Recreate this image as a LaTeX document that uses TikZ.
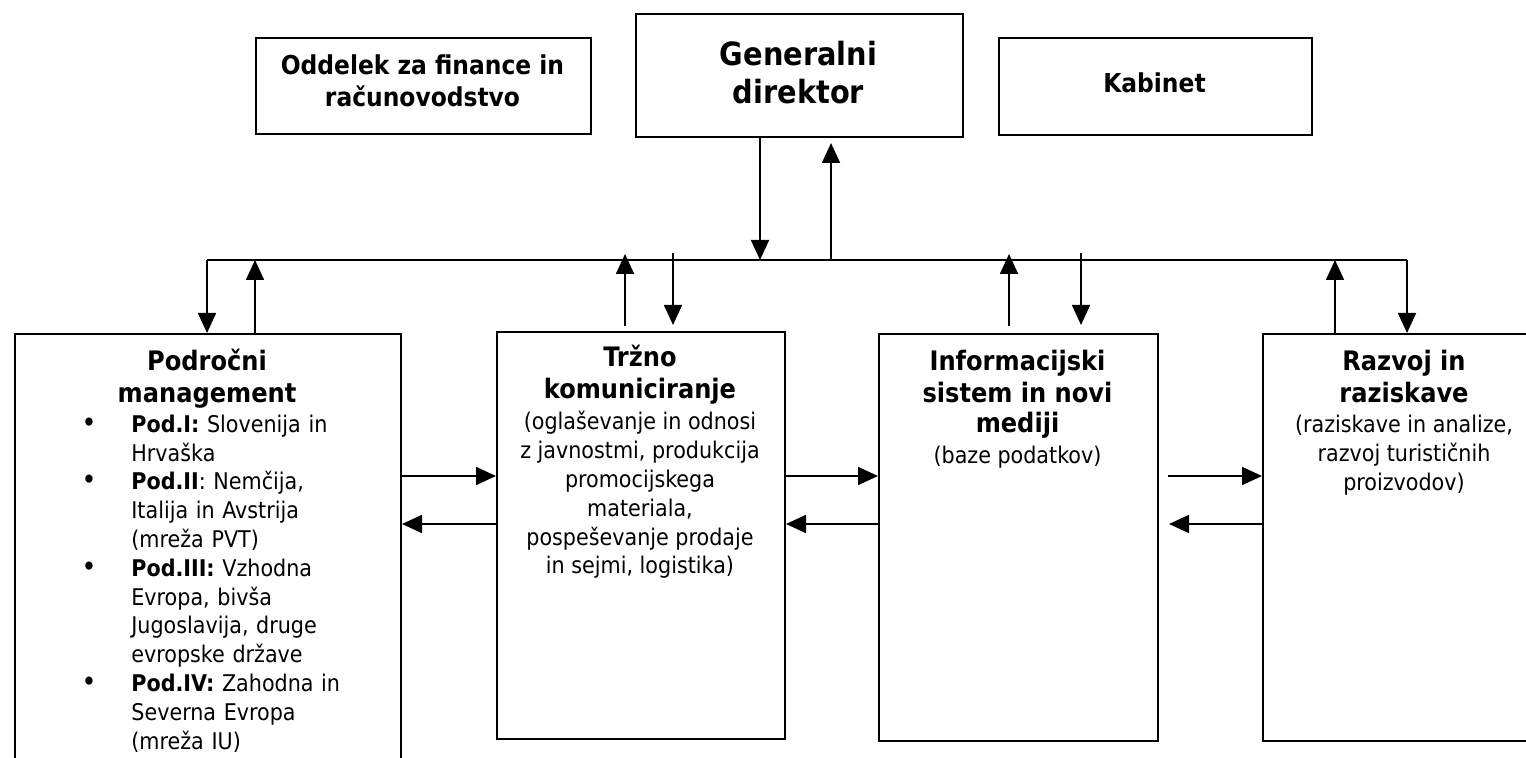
\documentclass[tikz,border=0pt]{standalone}
\usepackage{fontspec}
\setmainfont{DejaVu Sans Condensed}
\usetikzlibrary{arrows.meta}

% text sizes used in the chart
\newcommand\orgbody{\fontsize{11.5pt}{14.4pt}\selectfont}
\newcommand\orghead{\fontsize{13.4pt}{15pt}\selectfont\bfseries}
\newcommand\orgitem{\leavevmode\llap{{\fontsize{14pt}{14pt}\selectfont\textbullet}\hspace{17.5pt}}}
% fixes the height of a first line, so the node top sits a known distance above its baseline
\newcommand\firstline[1]{\rule{0pt}{#1}}

\tikzset{
  box/.style={draw, line width=1pt, inner sep=0pt, anchor=north west},
  txt/.style={inner sep=0pt, anchor=north, align=center},
  arr/.style={-{Triangle[length=10pt,width=9pt]}, line width=0.85pt},
  wire/.style={line width=0.85pt}
}

\begin{document}
\begin{tikzpicture}[x=0.5pt,y=-0.5pt]
\useasboundingbox (0,0) rectangle (1526,758);
\clip (0,0) rectangle (1526,758);

% top row
\node[box, minimum width=167.5pt, minimum height=48pt] (od) at (255,37) {};
\node[box, minimum width=163.5pt, minimum height=61.5pt] (gen) at (635,13) {};
\node[box, minimum width=156.5pt, minimum height=48.5pt] (kab) at (998,37) {};

% first baselines: 74, 65, 92 (24px / 28px above them)
\node[txt, font=\fontsize{13pt}{16pt}\selectfont\bfseries] (odT) at (422.5,50) {\firstline{12pt}Oddelek za finance in\\računovodstvo};
\node[txt, font=\fontsize{16pt}{19pt}\selectfont\bfseries] (genT) at (798.5,37) {\firstline{14pt}Generalni\\direktor};
\node[txt, font=\fontsize{13pt}{16pt}\selectfont\bfseries] (kabT) at (1154.5,68) {\firstline{12pt}Kabinet};

% departments
\node[box, minimum width=193pt, minimum height=228.5pt] (pm) at (14,333) {};
\node[box, minimum width=144pt, minimum height=203.5pt] (tk) at (496,331) {};
\node[box, minimum width=139.5pt, minimum height=203.5pt] (is) at (878,333) {};
\node[box, minimum width=145pt, minimum height=203.5pt] (rr) at (1262,333) {};

\node[txt, font=\orghead] (pmT) at (207,346) {\firstline{12pt}Področni\\[1pt]management};
\node[inner sep=0pt, anchor=north west, align=left, text width=135pt, font=\orgbody] (pmL) at (131,410)
 {\orgitem\firstline{11pt}\textbf{Pod.I:} Slovenija in\\
  Hrvaška\\
  \orgitem\textbf{Pod.II}: Nemčija,\\
  Italija in Avstrija\\
  (mreža PVT)\\
  \orgitem\textbf{Pod.III:} Vzhodna\\
  Evropa, bivša\\
  Jugoslavija, druge\\
  evropske države\\
  \orgitem\textbf{Pod.IV:} Zahodna in\\
  Severna Evropa\\
  (mreža IU)};

\node[txt, font=\orgbody] (tkT) at (640,342)
 {{\orghead\firstline{12pt}Tržno}\\[1.5pt]
  {\orghead komuniciranje}\\[1.5pt]
  (oglaševanje in odnosi\\
  z javnostmi, produkcija\\
  promocijskega\\
  materiala,\\
  pospeševanje prodaje\\
  in sejmi, logistika)};

\node[txt, font=\orgbody] (isT) at (1017.5,346)
 {{\orghead\firstline{12pt}Informacijski}\\[1.5pt]
  {\orghead sistem in novi}\\[1pt]
  {\orghead mediji}\\[1pt]
  (baze podatkov)};

\node[txt, font=\orgbody] (rrT) at (1404,346)
 {{\orghead\firstline{12pt}Razvoj in}\\[1.5pt]
  {\orghead raziskave}\\[1pt]
  (raziskave in analize,\\
  razvoj turističnih\\
  proizvodov)};

% bus line and its taps
\coordinate (busL) at (207,260);
\coordinate (busR) at (1407,260);
\coordinate (gdn) at (760,260);
\coordinate (gup) at (831,260);
\coordinate (pmup) at (255,260);
\coordinate (tkup) at (625,254);
\coordinate (tkdn) at (673,253);
\coordinate (isup) at (1009,254);
\coordinate (isdn) at (1081,253);
\coordinate (rrup) at (1335,260);
\draw[wire] (busL) -- (busR);

\draw[arr] (gen.south -| gdn) -- (gdn);
\draw[arr, shorten >=2.5pt] (gup) -- (gen.south -| gup);

\draw[arr] (busL) -- (pm.north -| busL);
\draw[arr] (pm.north -| pmup) -- (pmup);

\draw[arr, shorten <=2.5pt] (tk.north -| tkup) -- (tkup);
\draw[arr, shorten >=3pt] (tkdn) -- (tk.north -| tkdn);

\draw[arr, shorten <=3.5pt] (is.north -| isup) -- (isup);
\draw[arr, shorten >=4pt] (isdn) -- (is.north -| isdn);

\draw[arr] (rr.north -| rrup) -- (rrup);
\draw[arr] (busR) -- (rr.north -| busR);

% side links between departments
\coordinate (hR) at (0,476);
\coordinate (hL) at (0,524);
\draw[arr] (pm.east |- hR) -- (tk.west |- hR);
\draw[arr] (tk.west |- hL) -- (pm.east |- hL);
\draw[arr] (tk.east |- hR) -- (is.west |- hR);
\draw[arr] (is.west |- hL) -- (tk.east |- hL);
\draw[arr, shorten <=4.5pt] (is.east |- hR) -- (rr.west |- hR);
\draw[arr, shorten >=5pt] (rr.west |- hL) -- (is.east |- hL);
\end{tikzpicture}
\end{document}
